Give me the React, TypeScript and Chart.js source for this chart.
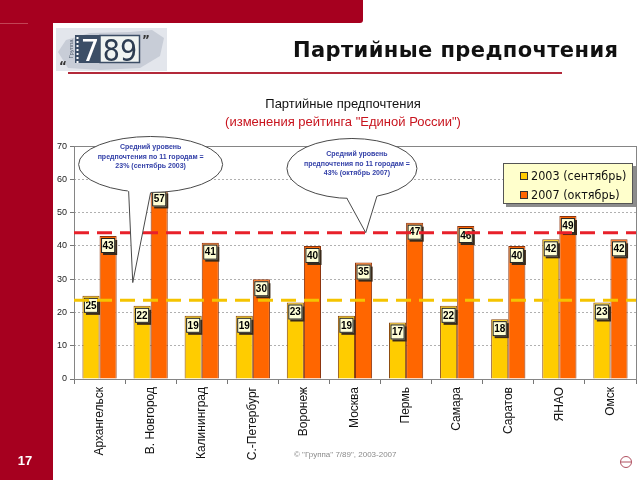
import React, { useEffect, useRef } from "react";
import { Chart, registerables } from "chart.js";

Chart.register(...registerables);

// ---------- data ----------
const CITIES = [
  "Архангельск",
  "В. Новгород",
  "Калининград",
  "С.-Петербург",
  "Воронеж",
  "Москва",
  "Пермь",
  "Самара",
  "Саратов",
  "ЯНАО",
  "Омск",
];
const SEP_2003 = [25, 22, 19, 19, 23, 19, 17, 22, 18, 42, 23];
const OCT_2007 = [43, 57, 41, 30, 40, 35, 47, 46, 40, 49, 42];
const SERIES_LABELS = ["2003 (сентябрь)", "2007 (октябрь)"];
const AVG_2003 = 23.7;
const AVG_2007 = 44;
const Y_MIN = 0;
const Y_MAX = 70;
const Y_STEP = 10;
const CALLOUT_2003 = ["Средний уровень", "предпочтения по 11 городам =", "23% (сентябрь 2003)"];
const CALLOUT_2007 = ["Средний уровень", "предпочтения по 11 городам =", "43% (октябрь 2007)"];
const SLIDE_TITLE = "Партийные предпочтения";
const CHART_TITLE = "Партийные предпочтения";
const CHART_SUBTITLE = "(изменения рейтинга \"Единой России\")";
const PAGE_NUMBER = "17";
const FOOTER = "© \"Группа\" 7/89\", 2003-2007";

const ARIAL = "'Liberation Sans', Arial, sans-serif";
const COLOR_2003 = "#ffcc00";
const COLOR_2007 = "#ff6600";
const SLIDE_RED = "#a6001f";

function drawCallout(
  ctx: CanvasRenderingContext2D,
  cx: number,
  cy: number,
  rx: number,
  ry: number,
  bx1: number,
  bx2: number,
  tipX: number,
  tipY: number,
  lines: string[],
  textX: number,
  textY0: number
) {
  const by = (bx: number) => cy + ry * Math.sqrt(Math.max(0, 1 - ((bx - cx) / rx) ** 2));
  const by1 = by(bx1);
  const by2 = by(bx2);
  ctx.save();
  ctx.fillStyle = "#ffffff";
  ctx.strokeStyle = "#4a4a4a";
  ctx.lineWidth = 1;
  ctx.beginPath();
  ctx.ellipse(cx, cy, rx, ry, 0, 0, Math.PI * 2);
  ctx.fill();
  ctx.stroke();
  ctx.beginPath();
  ctx.moveTo(bx1 - 1, by1 - 3);
  ctx.lineTo(tipX, tipY);
  ctx.lineTo(bx2 + 1, by2 - 3);
  ctx.closePath();
  ctx.fill();
  ctx.beginPath();
  ctx.moveTo(bx1, by1);
  ctx.lineTo(tipX, tipY);
  ctx.lineTo(bx2, by2);
  ctx.stroke();
  ctx.fillStyle = "#3340a8";
  ctx.font = `bold 7px ${ARIAL}`;
  ctx.textAlign = "center";
  ctx.textBaseline = "middle";
  lines.forEach((l, i) => ctx.fillText(l, textX, textY0 + i * 9.5));
  ctx.restore();
}

const slidePlugin = {
  id: "slide",
  beforeDraw(chart: any) {
    const ctx: CanvasRenderingContext2D = chart.ctx;
    ctx.save();
    ctx.fillStyle = "#ffffff";
    ctx.fillRect(0, 0, chart.width, chart.height);
    // red frame pieces
    ctx.fillStyle = SLIDE_RED;
    ctx.beginPath();
    ctx.roundRect(0, 0, 363, 23, [0, 0, 3, 0]);
    ctx.fill();
    ctx.fillRect(0, 0, 53, 480);
    ctx.strokeStyle = "#c24455";
    ctx.lineWidth = 1;
    ctx.beginPath();
    ctx.moveTo(0, 23.5);
    ctx.lineTo(28, 23.5);
    ctx.stroke();

    // logo
    ctx.fillStyle = "#e3e6ec";
    ctx.fillRect(56, 28, 111, 43);
    ctx.fillStyle = "#c8cdd7";
    ctx.beginPath();
    ctx.moveTo(58, 52);
    ctx.lineTo(66, 40);
    ctx.lineTo(90, 33);
    ctx.lineTo(130, 32);
    ctx.lineTo(152, 30);
    ctx.lineTo(164, 38);
    ctx.lineTo(160, 56);
    ctx.lineTo(140, 68);
    ctx.lineTo(100, 70);
    ctx.lineTo(68, 68);
    ctx.closePath();
    ctx.fill();
    ctx.fillStyle = "#3c4e66";
    ctx.fillRect(75, 35, 25, 28);
    ctx.fillStyle = "#f0f4f2";
    ctx.fillRect(100, 35, 40, 28);
    ctx.strokeStyle = "#3c4e66";
    ctx.lineWidth = 1.5;
    ctx.strokeRect(100, 35.5, 39.5, 27);
    ctx.fillStyle = "#ffffff";
    for (let yy = 37; yy < 62; yy += 4) ctx.fillRect(76.5, yy, 2, 2);
    ctx.fillStyle = "#ffffff";
    ctx.font = "30px 'DejaVu Sans'";
    ctx.textAlign = "center";
    ctx.textBaseline = "alphabetic";
    ctx.fillText("7", 90, 61);
    ctx.fillStyle = "#2d3d52";
    ctx.font = "30px 'DejaVu Sans Condensed', 'DejaVu Sans'";
    ctx.fillText("89", 120, 61);
    ctx.save();
    ctx.translate(71, 49);
    ctx.rotate(-Math.PI / 2);
    ctx.fillStyle = "#556070";
    ctx.font = `6px ${ARIAL}`;
    ctx.fillText("Группа", 0, 2);
    ctx.restore();
    ctx.fillStyle = "#333";
    ctx.font = "bold 12px 'DejaVu Sans'";
    ctx.fillText("\u201C", 63, 70);
    ctx.fillText("\u201D", 146, 44);

    // slide title
    ctx.fillStyle = "#111";
    ctx.font = "bold 21px 'DejaVu Sans'";
    ctx.textAlign = "left";
    const w0 = ctx.measureText(SLIDE_TITLE).width;
    const sp = (325 - w0) / (SLIDE_TITLE.length - 1);
    (ctx as any).letterSpacing = `${sp}px`;
    ctx.fillText(SLIDE_TITLE, 293, 57);
    (ctx as any).letterSpacing = "0px";
    ctx.strokeStyle = "#b3293a";
    ctx.lineWidth = 2;
    ctx.beginPath();
    ctx.moveTo(68, 73);
    ctx.lineTo(562, 73);
    ctx.stroke();

    // page number & footer
    ctx.fillStyle = "#ffffff";
    ctx.font = `bold 13px ${ARIAL}`;
    ctx.textAlign = "center";
    ctx.textBaseline = "middle";
    ctx.fillText(PAGE_NUMBER, 25, 461);
    ctx.fillStyle = "#8a8a8a";
    ctx.font = `8px ${ARIAL}`;
    ctx.textAlign = "left";
    ctx.fillText(FOOTER, 294, 455);
    ctx.strokeStyle = "#b05060";
    ctx.lineWidth = 1;
    ctx.beginPath();
    ctx.arc(626, 462, 5.5, 0, Math.PI * 2);
    ctx.stroke();
    ctx.beginPath();
    ctx.moveTo(621, 462);
    ctx.lineTo(631, 462);
    ctx.stroke();
    ctx.restore();
  },
  beforeDatasetsDraw(chart: any) {
    const ctx: CanvasRenderingContext2D = chart.ctx;
    const a = chart.chartArea;
    ctx.save();
    ctx.strokeStyle = "#858585";
    ctx.lineWidth = 1;
    ctx.strokeRect(Math.round(a.left) + 0.5, Math.round(a.top) + 0.5, Math.round(a.right - a.left), Math.round(a.bottom - a.top));
    ctx.restore();
  },
  afterDatasetsDraw(chart: any) {
    const ctx: CanvasRenderingContext2D = chart.ctx;
    const a = chart.chartArea;
    const xs = chart.scales.x;
    const ys = chart.scales.y;
    ctx.save();
    // value labels
    chart.data.datasets.forEach((ds: any, di: number) => {
      const meta = chart.getDatasetMeta(di);
      meta.data.forEach((el: any, i: number) => {
        const p = el.getProps(["x", "y", "width"], true);
        const w = p.width - 3;
        const h = 15;
        const left = p.x - p.width / 2 + 1.5;
        const top = p.y + 2;
        ctx.fillStyle = "#3a2a1a";
        ctx.fillRect(left + 2, top + 2, w, h);
        ctx.fillStyle = "#ffffd6";
        ctx.fillRect(left, top, w, h);
        ctx.strokeStyle = "#222";
        ctx.lineWidth = 1;
        ctx.strokeRect(left + 0.5, top + 0.5, w - 1, h - 1);
        ctx.fillStyle = "#000";
        ctx.font = `bold 10px ${ARIAL}`;
        ctx.textAlign = "center";
        ctx.textBaseline = "middle";
        ctx.fillText(String(ds.data[i]), left + w / 2, top + h / 2 + 0.5);
      });
    });
    // average lines
    ctx.lineWidth = 3;
    ctx.setLineDash([15, 8]);
    [
      [AVG_2007, "#e8202a"],
      [AVG_2003, "#f5c400"],
    ].forEach(([v, c]) => {
      const y = ys.getPixelForValue(v as number);
      ctx.strokeStyle = c as string;
      ctx.beginPath();
      ctx.moveTo(a.left, y);
      ctx.lineTo(a.right, y);
      ctx.stroke();
    });
    ctx.setLineDash([]);
    ctx.restore();

    // callouts
    const lcx = xs.getPixelForValue(1);
    const lcy = ys.getPixelForValue(64.5);
    drawCallout(ctx, lcx, lcy, 72, 28, lcx - 22, lcx, xs.getPixelForValue(0.65), ys.getPixelForValue(29), CALLOUT_2003, lcx, lcy - 17);
    const rcx = xs.getPixelForValue(4.94);
    const rcy = ys.getPixelForValue(63.3);
    drawCallout(ctx, rcx, rcy, 65, 30, rcx - 5, rcx + 25, xs.getPixelForValue(5.21), ys.getPixelForValue(AVG_2007), CALLOUT_2007, rcx + 5, rcy - 14);

    // legend
    ctx.save();
    const lx = 503, ly = 163, lw = 130, lh = 41;
    ctx.fillStyle = "#8c8c8c";
    ctx.fillRect(lx + 3, ly + 3, lw, lh);
    ctx.fillStyle = "#ffffcc";
    ctx.fillRect(lx, ly, lw, lh);
    ctx.strokeStyle = "#555";
    ctx.lineWidth = 1;
    ctx.strokeRect(lx + 0.5, ly + 0.5, lw - 1, lh - 1);
    chart.data.datasets.forEach((ds: any, di: number) => {
      const cy = ly + 13 + di * 19;
      ctx.fillStyle = ds.backgroundColor;
      ctx.fillRect(520, cy - 4, 8, 8);
      ctx.strokeStyle = "#333";
      ctx.strokeRect(520.5, cy - 3.5, 7, 7);
      ctx.fillStyle = "#111";
      ctx.font = "12.5px 'DejaVu Sans Condensed', 'DejaVu Sans'";
      ctx.textAlign = "left";
      ctx.textBaseline = "middle";
      ctx.fillText(ds.label, 531, cy + 1);
    });
    ctx.restore();
  },
};

export default function App() {
  const ref = useRef<HTMLCanvasElement>(null);
  useEffect(() => {
    const canvas = ref.current!;
    const chart = new Chart(canvas, {
      type: "bar",
      data: {
        labels: CITIES,
        datasets: [
          {
            label: SERIES_LABELS[0],
            data: SEP_2003,
            backgroundColor: COLOR_2003,
            borderColor: "#8a4a10",
            borderWidth: 1,
            categoryPercentage: 0.67,
            barPercentage: 1,
          },
          {
            label: SERIES_LABELS[1],
            data: OCT_2007,
            backgroundColor: COLOR_2007,
            borderColor: "#8a3510",
            borderWidth: 1,
            categoryPercentage: 0.67,
            barPercentage: 1,
          },
        ],
      },
      options: {
        responsive: false,
        animation: false,
        devicePixelRatio: 1,
        layout: { padding: { left: 50, right: 4, top: 0, bottom: 0 } },
        plugins: {
          legend: { display: false },
          tooltip: { enabled: false },
          title: {
            display: true,
            text: CHART_TITLE,
            color: "#111",
            font: { family: ARIAL, size: 13, weight: "normal" },
            padding: { top: 97, bottom: 0 },
          },
          subtitle: {
            display: true,
            text: CHART_SUBTITLE,
            color: "#c8141e",
            font: { family: ARIAL, size: 13, weight: "normal" },
            padding: { top: 2, bottom: 16 },
          },
        },
        scales: {
          x: {
            grid: { display: true, drawOnChartArea: false, drawTicks: true, tickLength: 5, color: "#777", offset: true },
            border: { display: false },
            ticks: {
              minRotation: 90,
              maxRotation: 90,
              autoSkip: false,
              padding: 3,
              color: "#111",
              font: { family: ARIAL, size: 12 },
            },
            afterFit: (s: any) => {
              s.height = 101;
            },
          },
          y: {
            min: Y_MIN,
            max: Y_MAX,
            ticks: { stepSize: Y_STEP, color: "#222", font: { family: ARIAL, size: 9 }, padding: 3 },
            grid: { color: "#b0b0b0", tickLength: 4, tickColor: "#777", tickBorderDash: [] },
            border: { display: false, dash: [2, 2] },
            afterFit: (s: any) => {
              s.width = 24;
            },
          },
        },
      } as any,
      plugins: [slidePlugin],
    });
    return () => chart.destroy();
  }, []);
  return (
    <div style={{ position: "fixed", left: 0, top: 0, width: 640, height: 480 }}>
      <canvas ref={ref} width={640} height={480} style={{ display: "block" }} />
    </div>
  );
}
